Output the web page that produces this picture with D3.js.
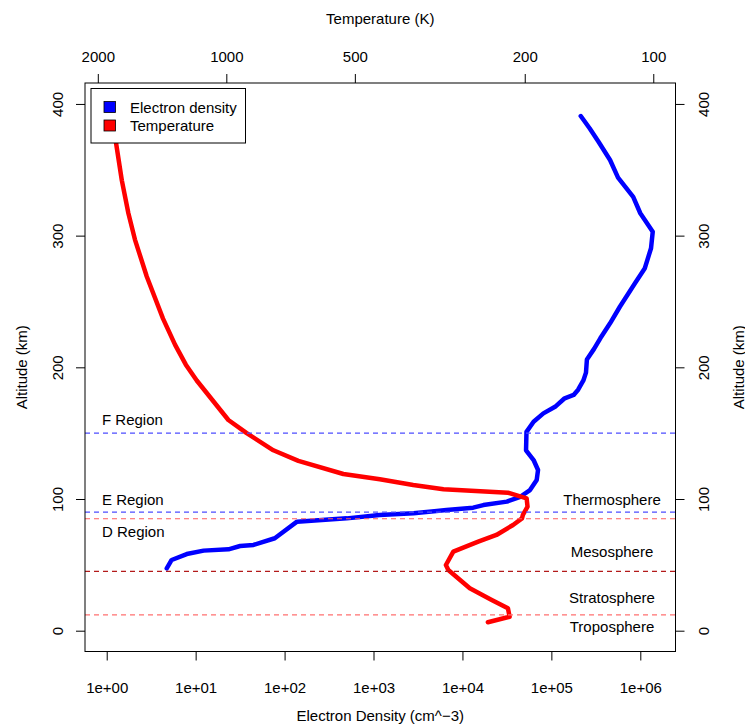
<!DOCTYPE html>
<html>
<head>
<meta charset="utf-8">
<script src="https://cdn.jsdelivr.net/npm/d3@7"></script>
<style>
  html, body { margin: 0; padding: 0; background: #fff; }
  svg { display: block; }
  text { font-family: "Liberation Sans", Arial, Helvetica, sans-serif; fill: #000; }
</style>
</head>
<body>
<svg id="chart" width="745" height="725"></svg>
<script>
// Electron density profile (cm^-3) by altitude (km)
const densityAltitude = [390.8, 381.5, 371.3, 357.4, 344, 329.5, 317, 303, 290.4, 275, 263.8, 246, 233.4, 222,
  214, 206, 196, 190, 183, 179, 176.5, 170, 165, 158.7, 151, 137, 129.6, 122, 114.4, 106.8, 101.7, 98,
  95.4, 93.4, 91.6, 89.1, 87.9, 85.3, 82.8, 70.2, 65.1, 64.3, 61.8, 60.8, 58.2, 53.7, 47.4];
const densityValues = [2.14e5, 2.69e5, 3.39e5, 4.57e5, 5.62e5, 8.32e5, 1.0e6, 1.38e6, 1.32e6, 1.12e6, 8.71e5, 5.89e5, 4.57e5, 3.55e5,
  3.02e5, 2.51e5, 2.45e5, 2.29e5, 2.0e5, 1.78e5, 1.41e5, 1.10e5, 8.13e4, 6.31e4, 5.25e4, 5.19e4, 6.31e4, 7.08e4, 6.84e4, 5.75e4, 4.47e4, 3.16e4,
  1.72e4, 1.32e4, 6.61e3, 2.82e3, 1.17e3, 5.0e2, 1.38e2, 77.6, 44.7, 31.6, 23.4, 12.3, 7.94, 5.37, 4.73];

// Neutral temperature profile (K) by altitude (km)
const tempAltitude = [400, 370, 342, 317, 297, 269, 237, 217, 202, 190, 160, 150, 137, 129, 119, 115, 110.6, 107.4,
  104.8, 100.5, 94.2, 87.9, 85.3, 80.3, 72.7, 67.6, 60, 49.9, 46.1, 32.2, 23.3, 17, 10.6, 6.4];
const tempValues = [1850, 1812, 1757, 1696, 1637, 1536, 1407, 1318, 1244, 1173, 989, 896, 776, 678, 532, 437, 365, 310,
  219, 198, 197, 202, 203, 213, 233, 257, 294, 306, 302, 269, 239, 219, 217, 244];

// Axis ticks
const densityTicks = [1e0, 1e1, 1e2, 1e3, 1e4, 1e5, 1e6];
const densityTickLabels = ["1e+00", "1e+01", "1e+02", "1e+03", "1e+04", "1e+05", "1e+06"];
const tempTicks = [2000, 1000, 500, 200, 100];
const altitudeTicks = [0, 100, 200, 300, 400];

// Reference altitude lines and annotations
const boundaryAltitudes = [150, 90, 85, 45, 12];
const boundaryColors = ["#4d4dff", "#4d4dff", "#ff5c5c", "#b31a1a", "#ff7070"];
const ionosphereLabels = ["F Region", "E Region", "D Region"];
const ionosphereLabelAltitudes = [160, 100, 75];
const atmosphereLabels = ["Thermosphere", "Mesosphere", "Stratosphere", "Troposphere"];
const atmosphereLabelAltitudes = [100, 60, 25.5, 3];

const legendLabels = ["Electron density", "Temperature"];
const legendColors = ["#0000ff", "#ff0000"];

const box = { left: 85, right: 675.5, top: 83, bottom: 651.5 };
const fs = 15;

const svg = d3.select("#chart");

const x = d3.scaleLog().domain([Math.pow(10, -0.2442), Math.pow(10, 6.3958)]).range([box.left, box.right]);
const xt = d3.scaleLog().domain([2143, 88.7]).range([box.left, box.right]);
const y = d3.scaleLinear().domain([-15.8, 415.9]).range([box.bottom, box.top]);

svg.append("defs").append("clipPath").attr("id", "plotclip")
  .append("rect").attr("x", box.left).attr("y", box.top)
  .attr("width", box.right - box.left).attr("height", box.bottom - box.top);

const plot = svg.append("g").attr("clip-path", "url(#plotclip)");

const densityLine = d3.line().x(d => x(d[1])).y(d => y(d[0]));
plot.append("path")
  .datum(densityAltitude.map((a, i) => [a, densityValues[i]]))
  .attr("d", densityLine)
  .attr("fill", "none").attr("stroke", "#0000ff").attr("stroke-width", 4.5)
  .attr("stroke-linejoin", "round").attr("stroke-linecap", "round");

const tempLine = d3.line().x(d => xt(d[1])).y(d => y(d[0]));
plot.append("path")
  .datum(tempAltitude.map((a, i) => [a, tempValues[i]]))
  .attr("d", tempLine)
  .attr("fill", "none").attr("stroke", "#ff0000").attr("stroke-width", 4.5)
  .attr("stroke-linejoin", "round").attr("stroke-linecap", "round");

// horizontal boundary lines
plot.selectAll("line.boundary").data(boundaryAltitudes).enter().append("line")
  .attr("class", "boundary")
  .attr("x1", box.left).attr("x2", box.right)
  .attr("y1", d => y(d)).attr("y2", d => y(d))
  .attr("stroke", (d, i) => boundaryColors[i]).attr("stroke-width", 1.2)
  .attr("stroke-dasharray", "5,4");

// region annotations
svg.selectAll("text.iono").data(ionosphereLabels).enter().append("text")
  .attr("class", "iono")
  .attr("x", 102).attr("y", (d, i) => y(ionosphereLabelAltitudes[i]))
  .attr("dominant-baseline", "central").attr("font-size", fs).text(d => d);

svg.selectAll("text.atmo").data(atmosphereLabels).enter().append("text")
  .attr("class", "atmo")
  .attr("x", 612).attr("y", (d, i) => y(atmosphereLabelAltitudes[i]))
  .attr("text-anchor", "middle").attr("dominant-baseline", "central")
  .attr("font-size", fs).text(d => d);

// plot frame
svg.append("rect")
  .attr("x", box.left).attr("y", box.top)
  .attr("width", box.right - box.left).attr("height", box.bottom - box.top)
  .attr("fill", "none").attr("stroke", "#000").attr("stroke-width", 1);

function styleAxis(g) {
  g.select(".domain").remove();
  g.selectAll(".tick line").attr("stroke", "#000").attr("stroke-width", 1);
  g.selectAll(".tick text").attr("font-size", fs)
    .attr("font-family", '"Liberation Sans", Arial, Helvetica, sans-serif').attr("fill", "#000");
}

// bottom axis: electron density
const gb = svg.append("g").attr("transform", `translate(0,${box.bottom})`)
  .call(d3.axisBottom(x).tickValues(densityTicks).tickFormat((d, i) => densityTickLabels[i]).tickSize(9).tickPadding(0));
styleAxis(gb);
gb.selectAll(".tick text").attr("dy", null).attr("y", 36).attr("dominant-baseline", "central");

// top axis: temperature
const gt = svg.append("g").attr("transform", `translate(0,${box.top})`)
  .call(d3.axisTop(xt).tickValues(tempTicks).tickFormat(d3.format("d")).tickSize(9).tickPadding(0));
styleAxis(gt);
gt.selectAll(".tick text").attr("dy", null).attr("y", -27).attr("dominant-baseline", "central");

// left axis: altitude
const gl = svg.append("g").attr("transform", `translate(${box.left},0)`)
  .call(d3.axisLeft(y).tickValues(altitudeTicks).tickSize(9).tickPadding(0));
styleAxis(gl);
gl.selectAll(".tick text").attr("x", null).attr("dy", null)
  .attr("transform", "translate(-28,0) rotate(-90)")
  .attr("text-anchor", "middle").attr("dominant-baseline", "central");

// right axis: altitude
const gr = svg.append("g").attr("transform", `translate(${box.right},0)`)
  .call(d3.axisRight(y).tickValues(altitudeTicks).tickSize(9).tickPadding(0));
styleAxis(gr);
gr.selectAll(".tick text").attr("x", null).attr("dy", null)
  .attr("transform", "translate(28,0) rotate(-90)")
  .attr("text-anchor", "middle").attr("dominant-baseline", "central");

// axis titles
svg.append("text").attr("x", (box.left + box.right) / 2).attr("y", 715.5)
  .attr("text-anchor", "middle").attr("dominant-baseline", "central").attr("font-size", fs)
  .text("Electron Density (cm^\u22123)");
svg.append("text").attr("x", (box.left + box.right) / 2).attr("y", 18)
  .attr("text-anchor", "middle").attr("dominant-baseline", "central").attr("font-size", fs)
  .text("Temperature (K)");
svg.append("text").attr("transform", `translate(21.5,${(box.top + box.bottom) / 2}) rotate(-90)`)
  .attr("text-anchor", "middle").attr("dominant-baseline", "central").attr("font-size", fs)
  .text("Altitude (km)");
svg.append("text").attr("transform", `translate(${box.right + 63},${(box.top + box.bottom) / 2}) rotate(-90)`)
  .attr("text-anchor", "middle").attr("dominant-baseline", "central").attr("font-size", fs)
  .text("Altitude (km)");

// legend
const lg = svg.append("g");
lg.append("rect").attr("x", 91).attr("y", 88.5).attr("width", 154.5).attr("height", 54.5)
  .attr("fill", "#fff").attr("stroke", "#000").attr("stroke-width", 1);
legendLabels.forEach((lab, i) => {
  const cy = 107 + i * 18.5;
  lg.append("rect").attr("x", 104).attr("y", cy - 5.5).attr("width", 11.5).attr("height", 11)
    .attr("fill", legendColors[i]).attr("stroke", "#000").attr("stroke-width", 0.8);
  lg.append("text").attr("x", 130).attr("y", cy).attr("dominant-baseline", "central")
    .attr("font-size", fs).text(lab);
});
</script>
</body>
</html>
